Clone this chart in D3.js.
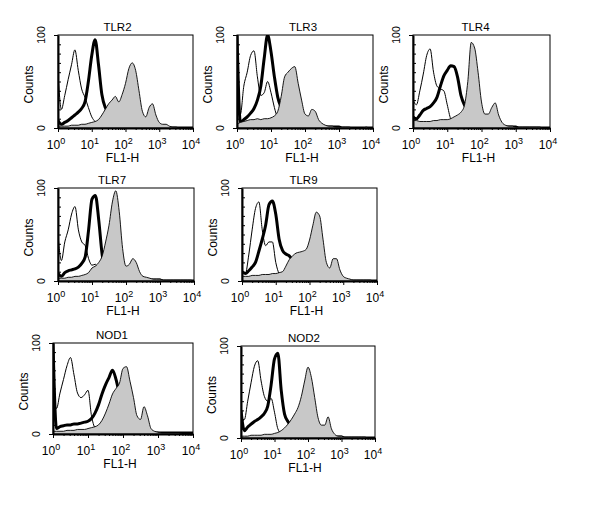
<!DOCTYPE html>
<html>
<head>
<meta charset="utf-8">
<script src="https://cdn.jsdelivr.net/npm/d3@7"></script>
<style>
body { margin: 0; background: #fff; }
text { font-family: Arial, "Liberation Sans", sans-serif; fill: #000; }
</style>
</head>
<body>
<div id="figure"></div>
<script>
// log10 channel positions shared by all histograms
var logPos = [0, 0.1, 0.2, 0.3, 0.4, 0.5, 0.6, 0.7, 0.8, 0.9, 1.0,
	1.1, 1.2, 1.3, 1.4, 1.5, 1.6, 1.7, 1.8, 1.9, 2.0,
	2.1, 2.2, 2.3, 2.4, 2.5, 2.6, 2.7, 2.8, 2.9, 3.0,
	3.1, 3.2, 3.3, 3.4, 3.5, 3.6, 3.7, 3.8, 3.9, 4.0];

// thin line = isotype, thick line = unstimulated, gray = stained
var tlr2Thin  = [60,20,35,52,68,84,62,42,33,22,12, 7,5,4,3,3,2,2,2,1,1, 1,1,1,1,1,1,1,1,1,1, 0,0,0,0,0,0,0,0,0,0];
var tlr2Thick = [8,4,6,8,11,14,17,21,28,50,78, 95,68,36,22,17,14,11,8,6,5, 4,3,3,2,2,2,1,1,1,1, 0,0,0,0,0,0,0,0,0,0];
var tlr2Gray  = [2,2,2,2,3,3,3,4,4,5,6, 7,9,14,20,26,30,34,28,36,48, 64,70,62,40,18,12,22,26,14,6, 4,4,2,1,1,0,0,0,0,0];

var tlr3Thin  = [45,15,45,60,78,83,55,35,38,50,38, 22,10,6,4,3,3,2,2,1,1, 1,1,1,1,0,0,0,0,0,0, 0,0,0,0,0,0,0,0,0,0];
var tlr3Thick = [100,6,9,12,16,21,30,45,75,100,82, 55,33,22,15,10,7,5,4,3,2, 2,2,1,1,1,1,1,1,1,1, 0,0,0,0,0,0,0,0,0,0];
var tlr3Gray  = [4,6,7,8,9,9,10,9,10,10,11, 13,18,34,55,60,64,66,48,30,15, 13,20,18,9,5,3,2,2,1,1, 1,1,1,0,0,0,0,1,0,0];

var tlr4Thin  = [30,25,40,58,78,85,60,45,42,40,25, 10,6,4,3,3,2,2,1,1,1, 0,0,0,0,0,0,0,0,0,0, 0,0,0,0,0,0,0,0,0,0];
var tlr4Thick = [12,10,14,19,21,23,27,33,45,56,62, 67,66,55,35,25,20,15,10,7,5, 4,3,2,2,2,1,1,1,1,1, 0,0,0,0,0,0,0,0,0,0];
var tlr4Gray  = [8,8,7,7,7,7,8,8,9,9,9, 10,12,14,17,24,50,92,86,60,28, 15,15,22,27,14,6,3,2,2,1, 1,1,1,1,1,1,1,0,0,0];

var tlr7Thin  = [50,22,42,55,72,80,55,42,38,24,17, 18,8,5,4,3,3,2,2,1,1, 0,0,0,0,0,0,0,0,0,0, 0,0,0,0,0,0,0,0,0,0];
var tlr7Thick = [8,5,9,11,12,13,15,19,26,55,88, 92,65,28,14,10,8,6,5,4,3, 3,2,2,2,1,1,1,1,1,1, 0,0,0,0,0,0,0,0,0,0];
var tlr7Gray  = [3,3,3,4,4,5,5,6,7,9,14, 16,20,27,42,60,85,97,75,35,16, 18,24,20,10,5,4,3,2,2,2, 1,1,1,1,1,1,1,1,1,0];

var tlr9Thin  = [8,8,28,55,78,85,55,38,42,42,20, 8,5,4,3,3,2,2,1,1,1, 0,0,0,0,0,0,0,0,0,0, 0,0,0,0,0,0,0,0,0,0];
var tlr9Thick = [10,8,11,15,20,32,45,60,82,86,72, 45,33,29,27,22,16,10,7,5,4, 3,2,2,1,1,1,1,1,1,1, 0,0,0,0,0,0,0,0,0,0];
var tlr9Gray  = [5,5,5,6,6,6,7,7,7,8,8, 9,10,16,23,27,30,31,32,34,44, 60,74,70,45,20,14,24,24,12,5, 3,2,1,1,1,1,1,1,0,0];

var nod1Thin  = [55,28,45,60,75,84,65,45,40,43,48, 20,7,5,4,3,3,2,2,1,1, 0,0,0,0,0,0,0,0,0,0, 0,0,0,0,0,0,0,0,0,0];
var nod1Thick = [100,6,8,9,10,10,11,11,12,13,14, 17,23,32,44,54,62,70,60,43,27, 16,10,6,4,3,2,2,1,1,1, 1,1,1,1,1,1,1,1,1,1];
var nod1Gray  = [3,3,3,3,4,4,4,5,5,5,6, 7,8,10,15,23,33,44,50,56,72, 74,58,40,20,16,30,20,6,3,2, 1,1,1,1,1,1,0,0,0,0];

var nod2Thin  = [20,20,40,60,78,84,62,45,40,43,28, 10,5,4,3,3,2,2,1,1,1, 0,0,0,0,0,0,0,0,0,0, 0,0,0,0,0,0,0,0,0,0];
var nod2Thick = [30,8,12,15,18,20,23,27,35,58,86, 92,52,26,18,13,10,8,6,5,4, 3,3,2,2,1,1,1,1,1,1, 0,0,0,0,0,0,0,0,0,0];
var nod2Gray  = [2,2,2,3,3,3,3,4,4,4,5, 6,8,11,15,20,26,33,45,62,77, 66,44,22,14,14,23,10,4,2,2, 1,1,1,1,1,1,1,0,0,0];

var panelNames = ["TLR2", "TLR3", "TLR4", "TLR7", "TLR9", "NOD1", "NOD2"];
var thinSeries  = [tlr2Thin, tlr3Thin, tlr4Thin, tlr7Thin, tlr9Thin, nod1Thin, nod2Thin];
var thickSeries = [tlr2Thick, tlr3Thick, tlr4Thick, tlr7Thick, tlr9Thick, nod1Thick, nod2Thick];
var graySeries  = [tlr2Gray, tlr3Gray, tlr4Gray, tlr7Gray, tlr9Gray, nod1Gray, nod2Gray];

var decadeTicks = [1, 10, 100, 1000, 10000];
var decadeExp = ["0", "1", "2", "3", "4"];
var countTicks = [0, 100];
var countLabels = ["0", "100"];
var xTitle = "FL1-H";
var yTitle = "Counts";

// where each panel frame sits on the page (tx = title shift)
var layout = [
	{x: 58,  y: 35,  w: 135, h: 93, tx: -8},
	{x: 237, y: 35,  w: 136, h: 93, tx: -2},
	{x: 413, y: 35,  w: 137, h: 93, tx: -6},
	{x: 58,  y: 188, w: 136, h: 93, tx: -14},
	{x: 242, y: 188, w: 135, h: 93, tx: -6},
	{x: 53,  y: 343, w: 140, h: 91, tx: -11},
	{x: 241, y: 346, w: 134, h: 92, tx: -4}
];

var svg = d3.select("#figure")
	.append("svg")
	.attr("width", 600)
	.attr("height", 519)
	.style("display", "block");

svg.append("rect")
	.attr("width", 600)
	.attr("height", 519)
	.attr("fill", "#fff");

panelNames.forEach(function (name, i) {
	makePanel(svg, i);
});

function makePanel(svg, i) {
	var box = layout[i];
	var w = box.w,
		h = box.h;

	// log X scale, counts Y scale
	var x = d3.scaleLog()
		.domain([1, 10000])
		.range([0, w]);

	var y = d3.scaleLinear()
		.domain([0, 100])
		.range([h, 0])
		.clamp(true);

	var g = svg.append("g")
		.attr("transform", "translate(" + box.x + "," + box.y + ")");

	g.append("clipPath")
		.attr("id", "clip" + i)
		.append("rect")
		.attr("width", w)
		.attr("height", h);

	function points(vals) {
		return vals.map(function (v, k) {
			return [Math.pow(10, logPos[k]), v];
		});
	}

	var line = d3.line()
		.x(function (d) { return x(d[0]); })
		.y(function (d) { return y(d[1]); })
		.curve(d3.curveMonotoneX);

	var area = d3.area()
		.x(function (d) { return x(d[0]); })
		.y0(h)
		.y1(function (d) { return y(d[1]); })
		.curve(d3.curveMonotoneX);

	var plot = g.append("g")
		.attr("clip-path", "url(#clip" + i + ")");

	// thin isotype line
	plot.append("path")
		.datum(points(thinSeries[i]))
		.attr("d", line)
		.attr("fill", "none")
		.attr("stroke", "#000")
		.attr("stroke-width", 1);

	// thick line
	plot.append("path")
		.datum(points(thickSeries[i]))
		.attr("d", line)
		.attr("fill", "none")
		.attr("stroke", "#000")
		.attr("stroke-width", 3)
		.attr("stroke-linejoin", "round");

	// gray filled histogram on top
	plot.append("path")
		.datum(points(graySeries[i]))
		.attr("d", area)
		.attr("fill", "#c8c8c8");

	plot.append("path")
		.datum(points(graySeries[i]))
		.attr("d", line)
		.attr("fill", "none")
		.attr("stroke", "#000")
		.attr("stroke-width", 0.9);

	// frame
	g.append("rect")
		.attr("width", w)
		.attr("height", h)
		.attr("fill", "none")
		.attr("stroke", "#000")
		.attr("stroke-width", 1);

	// x axis: minor and decade ticks
	var minor = x.ticks().filter(function (t) {
		return decadeTicks.indexOf(Math.round(t)) < 0;
	});

	var xMinor = g.append("g")
		.attr("transform", "translate(0," + h + ")")
		.call(d3.axisBottom(x).tickValues(minor).tickSize(2).tickSizeOuter(0).tickFormat(""));
	xMinor.select(".domain").remove();

	var xMajor = g.append("g")
		.attr("transform", "translate(0," + h + ")")
		.call(d3.axisBottom(x).tickValues(decadeTicks).tickSize(4).tickSizeOuter(0).tickFormat(""));
	xMajor.select(".domain").attr("stroke-width", 2);

	// y axis: outer ticks at 0/100, inner minor ticks
	var yMajor = g.append("g")
		.call(d3.axisLeft(y).tickValues(countTicks).tickSize(4).tickSizeOuter(0).tickFormat(""));
	yMajor.select(".domain").attr("stroke-width", 2);

	var yMinor = g.append("g")
		.call(d3.axisRight(y).tickValues(y.ticks(10).filter(function (t) {
			return t > 0 && t < 100;
		})).tickSize(3).tickSizeOuter(0).tickFormat(""));
	yMinor.select(".domain").remove();

	// decade labels 10^n
	var xl = g.selectAll(".xlab")
		.data(decadeTicks)
		.enter()
		.append("text")
		.attr("class", "xlab")
		.attr("x", function (d) { return x(d) - 2; })
		.attr("y", h + 21)
		.attr("text-anchor", "middle");
	xl.append("tspan")
		.style("font-size", "12px")
		.text("10");
	xl.append("tspan")
		.attr("dy", -5)
		.style("font-size", "9px")
		.text(function (d, k) { return decadeExp[k]; });

	// rotated count labels
	g.selectAll(".ylab")
		.data(countTicks)
		.enter()
		.append("text")
		.attr("class", "ylab")
		.attr("transform", function (d) {
			return "translate(" + (-13) + "," + y(d) + ") rotate(-90)";
		})
		.attr("text-anchor", "middle")
		.style("font-size", "10.5px")
		.text(function (d, k) { return countLabels[k]; });

	g.append("text")
		.attr("transform", "translate(" + (-25) + "," + (h / 2 + 3) + ") rotate(-90)")
		.attr("text-anchor", "middle")
		.style("font-size", "12px")
		.text(yTitle);

	g.append("text")
		.attr("x", w / 2 - 3)
		.attr("y", h + 34)
		.attr("text-anchor", "middle")
		.style("font-size", "12px")
		.text(xTitle);

	g.append("text")
		.attr("x", w / 2 + box.tx)
		.attr("y", -4)
		.attr("text-anchor", "middle")
		.style("font-size", "11.5px")
		.text(panelNames[i]);
}
</script>
</body>
</html>
